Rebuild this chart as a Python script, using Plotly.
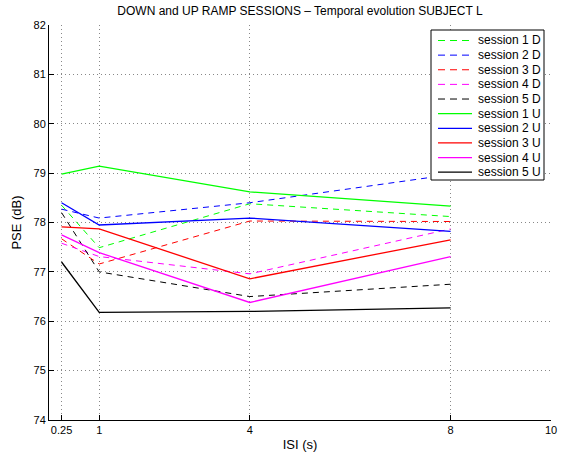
import plotly.graph_objects as go

isi = [0.25, 1, 4, 8]
x_ticks = [0.25, 1, 4, 8, 10]
x_tick_labels = ["0.25", "1", "4", "8", "10"]

down_names = ["session 1 D", "session 2 D", "session 3 D", "session 4 D", "session 5 D"]
up_names = ["session 1 U", "session 2 U", "session 3 U", "session 4 U", "session 5 U"]

d1 = [78.35, 77.49, 78.38, 78.12]
d2 = [78.27, 78.09, 78.40, 78.97]
d3 = [77.67, 77.16, 78.03, 78.02]
d4 = [77.58, 77.31, 76.96, 77.87]
d5 = [78.20, 77.00, 76.50, 76.75]

u1 = [78.98, 79.14, 78.62, 78.33]
u2 = [78.40, 77.95, 78.09, 77.82]
u3 = [77.91, 77.87, 76.86, 77.65]
u4 = [77.75, 77.39, 76.38, 77.31]
u5 = [77.20, 76.18, 76.20, 76.27]

colors = ["#00ff00", "#0000ff", "#ff0000", "#ff00ff", "#000000"]
down_vals = [d1, d2, d3, d4, d5]
up_vals = [u1, u2, u3, u4, u5]

DASH = "6px,5px"

fig = go.Figure()
for name, vals, c in zip(down_names, down_vals, colors):
    fig.add_trace(go.Scatter(x=isi, y=vals, mode="lines", name=name, showlegend=False,
                             line=dict(color=c, width=1, dash=DASH)))
for name, vals, c in zip(up_names, up_vals, colors):
    fig.add_trace(go.Scatter(x=isi, y=vals, mode="lines", name=name, showlegend=False,
                             line=dict(color=c, width=1.3)))

# plot-area geometry in pixels (for the hand-built MATLAB-style legend)
W, H = 563, 457
L, R, T, B = 49, 12, 25, 37
pw, ph = W - L - R, H - T - B

def px(x):
    return (x - L) / pw

def py(y):
    return (H - B - y) / ph

shapes = []
annotations = []
# legend box
shapes.append(dict(type="rect", xref="paper", yref="paper",
                   x0=px(431), x1=px(544), y0=py(180), y1=py(30),
                   line=dict(color="black", width=1), fillcolor="white", layer="above"))
entries = [(n, c, True) for n, c in zip(down_names, colors)] + \
          [(n, c, False) for n, c in zip(up_names, colors)]
for i, (n, c, dashed) in enumerate(entries):
    yy = 40.5 + 14.63 * i
    shapes.append(dict(type="line", xref="paper", yref="paper",
                       x0=px(438), x1=px(472), y0=py(yy), y1=py(yy), layer="above",
                       line=dict(color=c, width=1 if dashed else 1.3,
                                 dash="7px,5px" if dashed else "solid")))
    annotations.append(dict(text=n, xref="paper", yref="paper", x=px(476), y=py(yy),
                            xanchor="left", yanchor="middle", showarrow=False,
                            font=dict(size=12, color="black")))

font = "Liberation Sans, Arial, Helvetica, sans-serif"
fig.update_layout(
    width=W, height=H,
    margin=dict(l=L, r=R, t=T, b=B),
    paper_bgcolor="white", plot_bgcolor="white",
    font=dict(family=font, size=11, color="black"),
    title=dict(text="DOWN and UP RAMP SESSIONS \u2013 Temporal evolution SUBJECT L",
               x=(L + W - R) / 2 / W, xanchor="center", y=1 - 11 / H, yanchor="middle",
               font=dict(size=12)),
    showlegend=False,
    shapes=shapes,
    annotations=annotations,
)
grid = dict(showgrid=True, gridcolor="#888888", griddash="1px,3px", gridwidth=1)
fig.update_xaxes(range=[0, 10], tickvals=x_ticks, ticktext=x_tick_labels,
                 showline=True, linecolor="black", linewidth=1, mirror=False,
                 ticks="inside", ticklen=5, tickcolor="black", automargin=False,
                 zeroline=False, title=dict(text="ISI (s)", standoff=4),
                 tickfont=dict(size=11), **grid)
fig.update_yaxes(range=[74, 82], dtick=1, tick0=74,
                 showline=True, linecolor="black", linewidth=1, mirror=False,
                 ticks="inside", ticklen=5, tickcolor="black", automargin=False,
                 zeroline=False, title=dict(text="PSE (dB)", standoff=8),
                 tickfont=dict(size=11), **grid)

fig.write_html("out.html")
